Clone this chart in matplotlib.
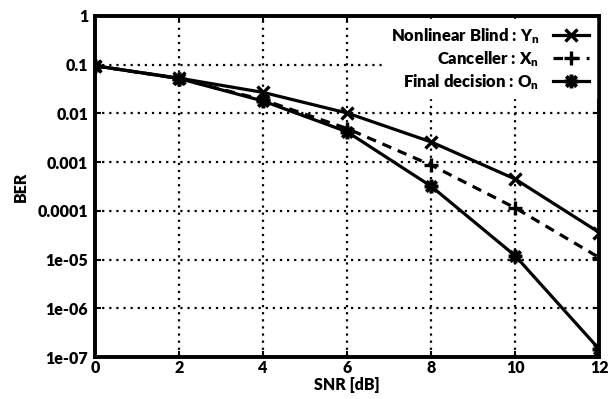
import matplotlib
matplotlib.use("Agg")
import matplotlib.pyplot as plt
from matplotlib.path import Path

plt.rcParams['font.family'] = ['Lato', 'DejaVu Sans']
plt.rcParams['font.weight'] = 'heavy'
plt.rcParams['mathtext.default'] = 'regular'

snr = [0, 2, 4, 6, 8, 10, 12]
ber_blind = [0.095, 0.053, 0.027, 0.0102, 0.0026, 0.00045, 3.6e-5]
ber_canceller = [0.095, 0.052, 0.019, 0.0049, 0.00087, 0.000115, 1.1e-5]
ber_final = [0.095, 0.052, 0.018, 0.0042, 0.00032, 1.2e-5, 1.45e-7]

labels = ['Nonlinear Blind : Y$_n$', 'Canceller : X$_n$', 'Final decision : O$_n$']
yticks = [1, 0.1, 0.01, 0.001, 0.0001, 1e-5, 1e-6, 1e-7]
yticklabels = ['1', '0.1', '0.01', '0.001', '0.0001', '1e-05', '1e-06', '1e-07']
xticks = [0, 2, 4, 6, 8, 10, 12]

# star marker: a plus and a cross drawn together
star = Path([(-1, 0), (1, 0), (0, -1), (0, 1),
             (-0.75, -0.75), (0.75, 0.75), (-0.75, 0.75), (0.75, -0.75)],
            [Path.MOVETO, Path.LINETO, Path.MOVETO, Path.LINETO,
             Path.MOVETO, Path.LINETO, Path.MOVETO, Path.LINETO])

fig = plt.figure(figsize=(6.09, 3.99), dpi=100)
ax = fig.add_axes([0.156, 0.105, 0.828, 0.855])

ax.plot(snr, ber_blind, color='black', lw=2.3, marker='x', ms=9, mew=2.4,
        label=labels[0])
ax.plot(snr, ber_canceller, color='black', lw=2.3, ls=(0, (3, 2.2)), marker='+',
        ms=10, mew=2.4, label=labels[1])
ax.plot(snr, ber_final, color='black', lw=2.3, marker=star, ms=10, mew=2.8,
        label=labels[2])

ax.set_yscale('log')
ax.set_xlim(0, 12)
ax.set_ylim(1e-7, 1)
ax.set_xticks(xticks)
ax.set_xticklabels([str(x) for x in xticks])
ax.set_yticks(yticks)
ax.set_yticklabels(yticklabels)
ax.minorticks_off()

ax.grid(True, color='black', ls=(0, (1, 2.2)), lw=1.6)
for s in ax.spines.values():
    s.set_linewidth(2.8)
ax.tick_params(axis='both', direction='in', length=4, width=1.5, labelsize=11.5,
               top=True, right=True)
ax.tick_params(axis='y', pad=5)
ax.tick_params(axis='x', pad=2)

ax.set_xlabel('SNR [dB]', fontsize=11.5, fontweight='heavy', labelpad=1)
ax.set_ylabel('BER', fontsize=11.5, fontweight='heavy', labelpad=6)

leg = ax.legend(loc='upper right', markerfirst=False, frameon=True, fancybox=False,
                edgecolor='white', facecolor='white', framealpha=1,
                handlelength=2.2, handletextpad=0.8, labelspacing=0.2,
                borderaxespad=0.2, prop={'weight': 'heavy', 'size': 12})
for t in leg.get_texts():
    t.set_ha('right')
leg._legend_box.align = 'right'

fig.savefig('out.png', dpi=100)
